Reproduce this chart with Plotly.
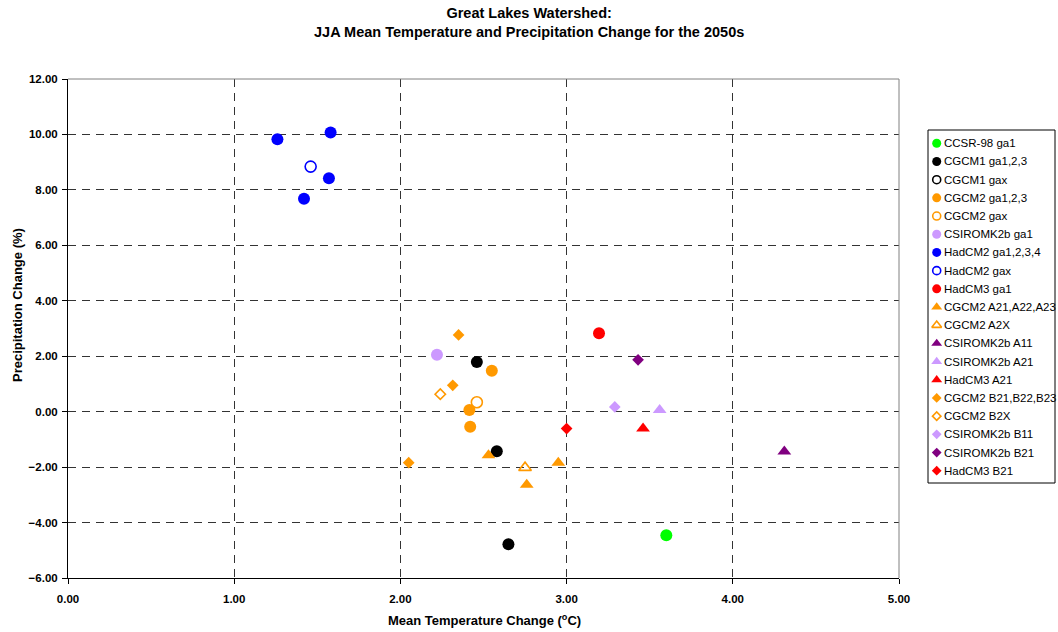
import plotly.graph_objects as go

# ---- data: one entry per model run --------------------------------------
names = [
    "CCSR-98 ga1", "CGCM1 ga1,2,3", "CGCM1 gax", "CGCM2 ga1,2,3", "CGCM2 gax",
    "CSIROMK2b ga1", "HadCM2 ga1,2,3,4", "HadCM2 gax", "HadCM3 ga1",
    "CGCM2 A21,A22,A23", "CGCM2 A2X", "CSIROMK2b A11", "CSIROMK2b A21",
    "HadCM3 A21", "CGCM2 B21,B22,B23", "CGCM2 B2X", "CSIROMK2b B11",
    "CSIROMK2b B21", "HadCM3 B21",
]

# mean temperature change (°C)
temp_change = [
    [3.60],
    [2.46, 2.58, 2.65],
    [],
    [2.55, 2.415, 2.42],
    [2.46],
    [2.22],
    [1.26, 1.58, 1.57, 1.42],
    [1.46],
    [3.195],
    [2.53, 2.95, 2.76],
    [2.75],
    [4.31],
    [3.56],
    [3.46],
    [2.35, 2.315, 2.05],
    [2.24],
    [3.29],
    [3.43],
    [3.00],
]

# precipitation change (%)
precip_change = [
    [-4.46],
    [1.79, -1.43, -4.78],
    [],
    [1.48, 0.06, -0.54],
    [0.34],
    [2.05],
    [9.83, 10.07, 8.42, 7.68],
    [8.84],
    [2.83],
    [-1.57, -1.84, -2.64],
    [-2.02],
    [-1.44],
    [0.06],
    [-0.61],
    [2.77, 0.95, -1.84],
    [0.63],
    [0.17],
    [1.87],
    [-0.61],
]

x_ticks = [0, 1, 2, 3, 4, 5]
y_ticks = [-6, -4, -2, 0, 2, 4, 6, 8, 10, 12]

# ---- styling ------------------------------------------------------------
GREEN, BLACK, ORANGE = "#00FF00", "#000000", "#FF9900"
LILAC, BLUE, RED, PURPLE = "#CC99FF", "#0000FF", "#FF0000", "#800080"

colors = [GREEN, BLACK, BLACK, ORANGE, ORANGE, LILAC, BLUE, BLUE, RED,
          ORANGE, ORANGE, PURPLE, LILAC, RED, ORANGE, ORANGE, LILAC, PURPLE, RED]
symbols = ["circle"] * 9 + ["triangle-up"] * 5 + ["diamond"] * 5
filled = [True, True, False, True, False, True, True, False, True,
          True, False, True, True, True, True, False, True, True, True]

plot_size = {"circle": 12, "triangle-up": 12, "diamond": 9}
key_size = {"circle": 9, "triangle-up": 9.5, "diamond": 7.5}

FONT = "Liberation Sans, Arial, sans-serif"

# page geometry (px)
W, H = 1058, 632
L, R, T, B = 68, 3, 79, 54
PLOT_W = W - L - R          # full axes area incl. key column
MAIN_RIGHT = 899            # right edge of the data area
KEY_LEFT, KEY_RIGHT = 928, 1055
KEY_TOP, KEY_BOTTOM = 130, 483
ROW0, ROW_STEP = 13.3, 18.19


def px_x(p):
    return (p - L) / PLOT_W


def px_y(p):
    return (H - B - p) / (H - T - B)


def marker(sym, fill, col, size):
    if not fill:
        size = size - 1
    return dict(symbol=sym if fill else sym + "-open", size=size, color=col,
                line=dict(color=col, width=0 if fill else 1.6))


fig = go.Figure()

# data points
for name, xs, ys, sym, col, fill in zip(names, temp_change, precip_change,
                                        symbols, colors, filled):
    fig.add_trace(go.Scatter(
        x=xs, y=ys, mode="markers", name=name, showlegend=False,
        marker=marker(sym, fill, col, plot_size[sym]),
        xaxis="x", yaxis="y",
    ))

# key column: one marker and label per series
for i, (name, sym, col, fill) in enumerate(zip(names, symbols, colors, filled)):
    row_y = ROW0 + i * ROW_STEP
    fig.add_trace(go.Scatter(
        x=[8.7], y=[row_y], mode="markers", name=name, showlegend=False,
        hoverinfo="skip", marker=marker(sym, fill, col, key_size[sym]),
        xaxis="x2", yaxis="y2",
    ))
    fig.add_annotation(
        x=13.5, y=row_y, xref="x2", yref="y2", text=name, showarrow=False,
        xanchor="left", yanchor="middle",
        font=dict(family=FONT, size=11.5, color="black"),
    )

fig.add_shape(type="rect", xref="x2 domain", yref="y2 domain",
              x0=0, x1=1, y0=0, y1=1, line=dict(color="black", width=1))

# plot-area frame on the top and right edges
fig.add_shape(type="line", xref="x domain", yref="y domain", x0=0, x1=1,
              y0=1, y1=1, line=dict(color="#808080", width=1))
fig.add_shape(type="line", xref="x domain", yref="y domain", x0=1, x1=1,
              y0=0, y1=1, line=dict(color="#808080", width=1))

tick_font = dict(family=FONT, size=11.5, color="black", weight="bold")

fig.update_layout(
    width=W, height=H,
    margin=dict(l=L, r=R, t=T, b=B, autoexpand=False),
    paper_bgcolor="white", plot_bgcolor="white",
    font=dict(family=FONT, color="black"),
    showlegend=False,
    xaxis=dict(
        domain=[0, px_x(MAIN_RIGHT)],
        range=[0, 5], tickvals=x_ticks, tickformat=".2f",
        showgrid=True, gridcolor="#333333", griddash="8px,6px", gridwidth=1,
        zeroline=False, showline=True, linecolor="black", linewidth=1,
        ticks="outside", ticklen=5, tickcolor="black",
        ticklabelstandoff=5, tickfont=tick_font,
    ),
    yaxis=dict(
        range=[-6, 12], tickvals=y_ticks, tickformat=".2f",
        showgrid=True, gridcolor="#333333", griddash="8px,6px", gridwidth=1,
        zeroline=False, showline=True, linecolor="black", linewidth=1,
        ticks="outside", ticklen=5, tickcolor="black",
        ticklabelstandoff=2, tickfont=tick_font,
    ),
    xaxis2=dict(
        domain=[px_x(KEY_LEFT), px_x(KEY_RIGHT)],
        range=[0, KEY_RIGHT - KEY_LEFT], visible=False, fixedrange=True,
    ),
    yaxis2=dict(
        domain=[px_y(KEY_BOTTOM), px_y(KEY_TOP)], anchor="x2",
        range=[KEY_BOTTOM - KEY_TOP, 0], visible=False, fixedrange=True,
    ),
)

# chart title and axis titles
fig.add_annotation(
    text="<b>Great Lakes Watershed:<br>JJA Mean Temperature and Precipitation Change for the 2050s</b>",
    x=px_x(529), y=px_y(22.5), xref="paper", yref="paper",
    xanchor="center", yanchor="middle", showarrow=False,
    font=dict(family=FONT, size=14.5, color="black"),
)
fig.add_annotation(
    text="<b>Mean Temperature Change (<sup>o</sup>C)</b>",
    x=px_x(484), y=px_y(620), xref="paper", yref="paper",
    xanchor="center", yanchor="middle", showarrow=False,
    font=dict(family=FONT, size=13, color="black"),
)
fig.add_annotation(
    text="<b>Precipitation Change (%)</b>", textangle=-90,
    x=px_x(17), y=px_y(305), xref="paper", yref="paper",
    xanchor="center", yanchor="middle", showarrow=False,
    font=dict(family=FONT, size=13, color="black"),
)

fig.write_html("out.html")
